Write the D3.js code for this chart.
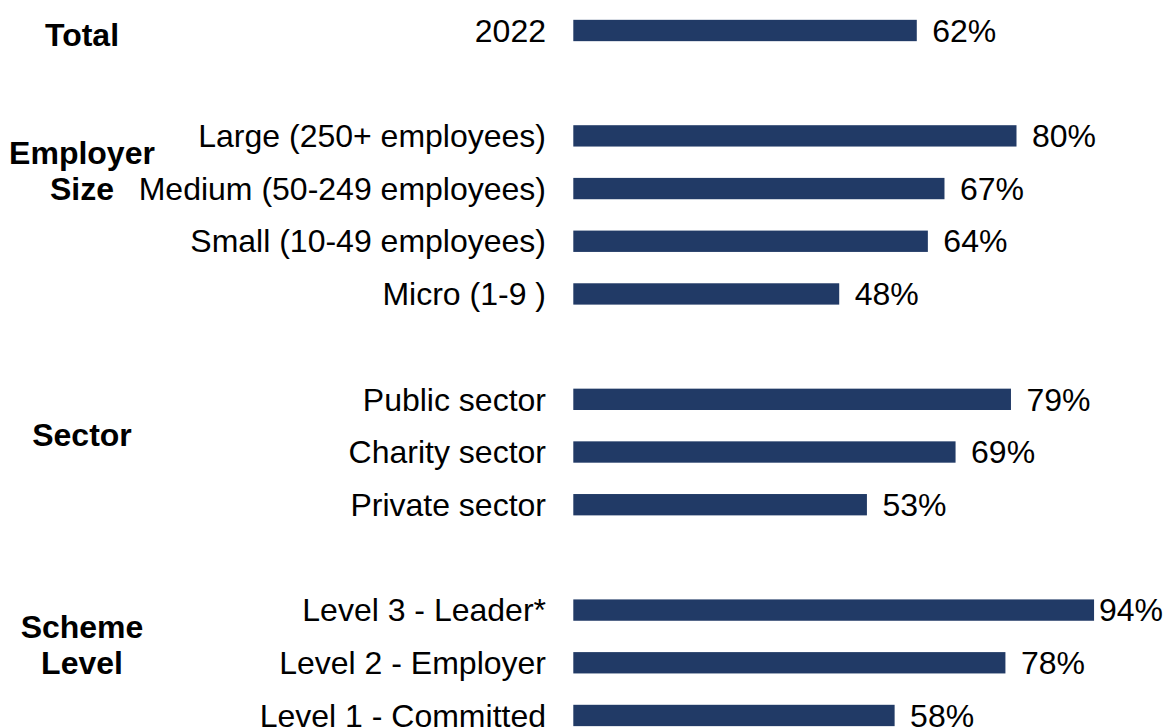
<!DOCTYPE html>
<html>
<head>
<meta charset="utf-8">
<script src="https://cdn.jsdelivr.net/npm/d3@7"></script>
<style>
  html, body { margin: 0; padding: 0; background: #ffffff; }
  svg { display: block; font-family: "Liberation Sans", Arial, sans-serif; }
</style>
</head>
<body>
<svg id="chart" width="1165" height="728"></svg>
<script>
// Share of employers, by group
const groups = ["Total", "Employer Size", "Sector", "Scheme Level"];
const totalCats = ["2022"];
const totalVals = [62];
const sizeCats = ["Large (250+ employees)", "Medium (50-249 employees)", "Small (10-49 employees)", "Micro (1-9 )"];
const sizeVals = [80, 67, 64, 48];
const sectorCats = ["Public sector", "Charity sector", "Private sector"];
const sectorVals = [79, 69, 53];
const levelCats = ["Level 3 - Leader*", "Level 2 - Employer", "Level 1 - Committed"];
const levelVals = [94, 78, 58];

const groupCats = [totalCats, sizeCats, sectorCats, levelCats];
const groupVals = [totalVals, sizeVals, sectorVals, levelVals];

// Flatten into rows, with an empty spacer row between groups
const rows = [];
groups.forEach((g, gi) => {
  if (gi > 0) rows.push({ key: "gap" + gi, spacer: true });
  groupCats[gi].forEach((c, ci) => {
    rows.push({ key: g + "|" + c, group: g, gi, ci, label: c, value: groupVals[gi][ci] });
  });
});

const svg = d3.select("#chart");
const W = 1165, H = 728;
const barColor = "#213a66";
const fontSize = 32;

const x = d3.scaleLinear().domain([0, 100]).range([573.3, 1127.3]);
const y = d3.scaleBand()
  .domain(rows.map(r => r.key))
  .range([4.15, 4.15 + rows.length * 52.69])
  .paddingInner(0.595)
  .paddingOuter(0.2975);

const data = rows.filter(r => !r.spacer);
const yc = r => y(r.key) + y.bandwidth() / 2;

// Bars
svg.append("g").selectAll("rect")
  .data(data)
  .join("rect")
  .attr("x", x(0))
  .attr("y", r => y(r.key))
  .attr("width", r => x(r.value) - x(0))
  .attr("height", y.bandwidth())
  .attr("fill", barColor);

// Category labels
svg.append("g").selectAll("text")
  .data(data)
  .join("text")
  .attr("x", 546)
  .attr("y", yc)
  .attr("dy", "0.35em")
  .attr("text-anchor", "end")
  .attr("font-size", fontSize)
  .attr("fill", "#000")
  .text(r => r.label);

// Value labels at the end of each bar, kept inside the canvas
svg.append("g").selectAll("text")
  .data(data)
  .join("text")
  .attr("y", yc)
  .attr("dy", "0.35em")
  .attr("font-size", fontSize)
  .attr("fill", "#000")
  .text(r => r.value + "%")
  .each(function (r) {
    const w = this.getComputedTextLength();
    const pos = Math.min(x(r.value) + 15.5, W - 2 - w);
    d3.select(this).attr("x", pos);
  });

// Group headings, centred in the left column
const headLines = groups.map(g => g.split(" "));
const heads = svg.append("g");
groups.forEach((g, gi) => {
  const first = data.find(r => r.gi === gi);
  const lines = headLines[gi];
  const single = groupCats[gi].length === 1;
  const centre = single ? yc(first) + 4 : yc(first) + 35;
  const lh = 36;
  lines.forEach((ln, li) => {
    heads.append("text")
      .attr("x", 82)
      .attr("y", centre + (li - (lines.length - 1) / 2) * lh)
      .attr("dy", "0.35em")
      .attr("text-anchor", "middle")
      .attr("font-size", fontSize)
      .attr("font-weight", "bold")
      .attr("fill", "#000")
      .text(ln);
  });
});
</script>
</body>
</html>
